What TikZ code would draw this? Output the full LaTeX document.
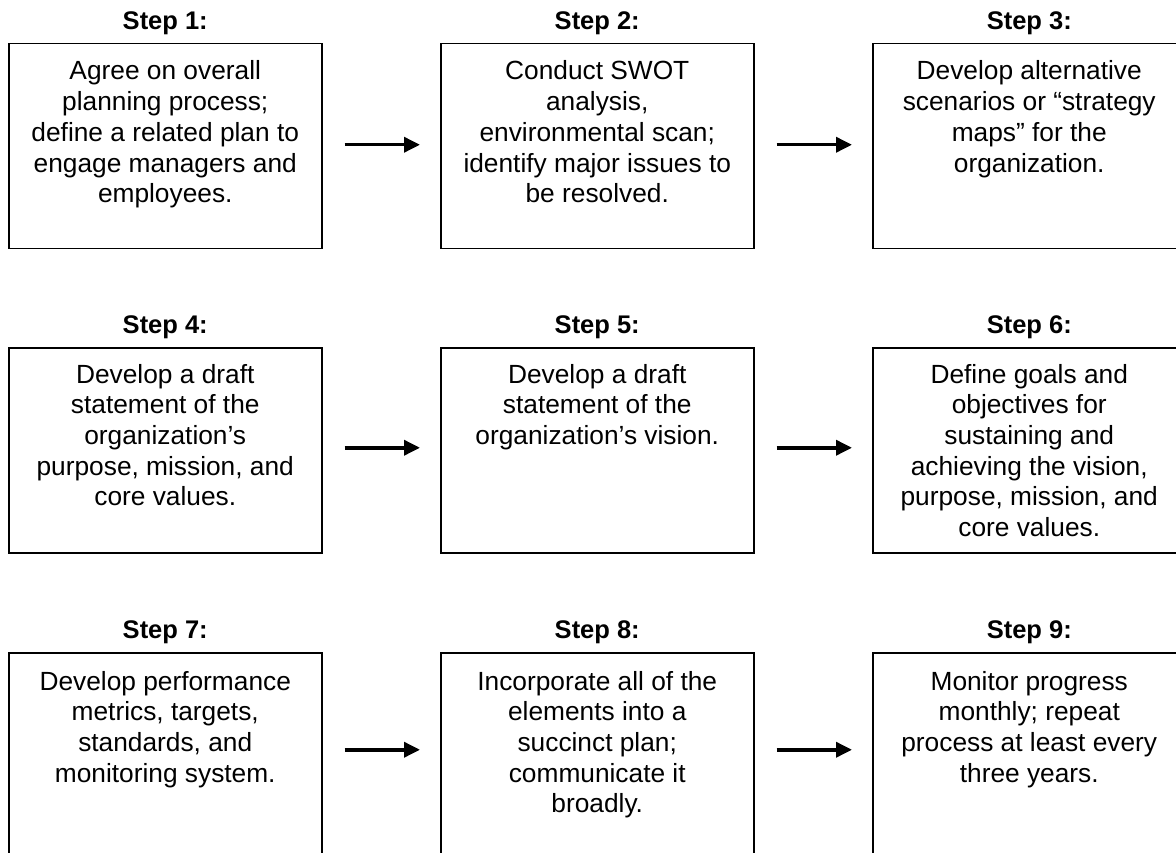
\documentclass[tikz,border=0pt]{standalone}
\usepackage{fontspec}
\setmainfont{Liberation Sans}
\usetikzlibrary{arrows.meta}
\begin{document}
\begin{tikzpicture}[x=1pt,y=1pt,
  stepbox/.style={draw, line width=1.5pt, minimum width=313pt, minimum height=205pt, inner sep=0pt, anchor=north west},
  steplabel/.style={anchor=base, inner sep=0pt, font=\fontsize{25.5}{30}\selectfont\bfseries},
  steptext/.style={anchor=base, inner sep=0pt, font=\fontsize{26.3}{30.7}\selectfont},
  arr/.style={line width=3.5pt, -{Triangle[length=16pt,width=15pt]}, shorten <=22pt, shorten >=20pt}]
\useasboundingbox (0,0) rectangle (1176,-853);
% boxes
\node[stepbox] (b1) at (8,-43) {};
\node[stepbox] (b2) at (440,-43) {};
\node[stepbox] (b3) at (872,-43) {};
\node[stepbox] (b4) at (8,-347) {};
\node[stepbox] (b5) at (440,-347) {};
\node[stepbox] (b6) at (872,-347) {};
\node[stepbox] (b7) at (8,-652) {};
\node[stepbox] (b8) at (440,-652) {};
\node[stepbox] (b9) at (872,-652) {};
% labels
\node[steplabel] (l1) at ([yshift=13.5pt]b1.north) {Step 1:};
\node[steplabel] (l2) at ([yshift=13.5pt]b2.north) {Step 2:};
\node[steplabel] (l3) at ([yshift=13.5pt]b3.north) {Step 3:};
\node[steplabel] (l4) at ([yshift=13.5pt]b4.north) {Step 4:};
\node[steplabel] (l5) at ([yshift=13.5pt]b5.north) {Step 5:};
\node[steplabel] (l6) at ([yshift=13.5pt]b6.north) {Step 6:};
\node[steplabel] (l7) at ([yshift=13.5pt]b7.north) {Step 7:};
\node[steplabel] (l8) at ([yshift=13.5pt]b8.north) {Step 8:};
\node[steplabel] (l9) at ([yshift=13.5pt]b9.north) {Step 9:};
% texts
\node[steptext] (t1) at ([yshift=-37pt]b1.north) {\parbox[t]{305pt}{\centering Agree on overall\\planning process;\\define a related plan to\\engage managers and\\employees.}};
\node[steptext] (t2) at ([yshift=-37pt]b2.north) {\parbox[t]{305pt}{\centering Conduct SWOT\\analysis,\\environmental scan;\\identify major issues to\\be resolved.}};
\node[steptext] (t3) at ([yshift=-37pt]b3.north) {\parbox[t]{305pt}{\centering Develop alternative\\scenarios or “strategy\\maps” for the\\organization.}};
\node[steptext] (t4) at ([yshift=-36pt]b4.north) {\parbox[t]{305pt}{\centering Develop a draft\\statement of the\\organization’s\\purpose, mission, and\\core values.}};
\node[steptext] (t5) at ([yshift=-36pt]b5.north) {\parbox[t]{305pt}{\centering Develop a draft\\statement of the\\organization’s vision.}};
\node[steptext] (t6) at ([yshift=-36pt]b6.north) {\parbox[t]{305pt}{\centering Define goals and\\objectives for\\sustaining and\\achieving the vision,\\purpose, mission, and\\core values.}};
\node[steptext] (t7) at ([yshift=-38pt]b7.north) {\parbox[t]{305pt}{\centering Develop performance\\metrics, targets,\\standards, and\\monitoring system.}};
\node[steptext] (t8) at ([yshift=-38pt]b8.north) {\parbox[t]{305pt}{\centering Incorporate all of the\\elements into a\\succinct plan;\\communicate it\\broadly.}};
\node[steptext] (t9) at ([yshift=-38pt]b9.north) {\parbox[t]{305pt}{\centering Monitor progress\\monthly; repeat\\process at least every\\three years.}};
% arrows
\draw[arr] ([yshift=1.5pt]b1.east) -- ([yshift=1.5pt]b2.west);
\draw[arr] ([yshift=1.5pt]b2.east) -- ([yshift=1.5pt]b3.west);
\draw[arr] ([yshift=2.5pt]b4.east) -- ([yshift=2.5pt]b5.west);
\draw[arr] ([yshift=2.5pt]b5.east) -- ([yshift=2.5pt]b6.west);
\draw[arr] ([yshift=5.5pt]b7.east) -- ([yshift=5.5pt]b8.west);
\draw[arr] ([yshift=5.5pt]b8.east) -- ([yshift=5.5pt]b9.west);
\end{tikzpicture}
\end{document}
